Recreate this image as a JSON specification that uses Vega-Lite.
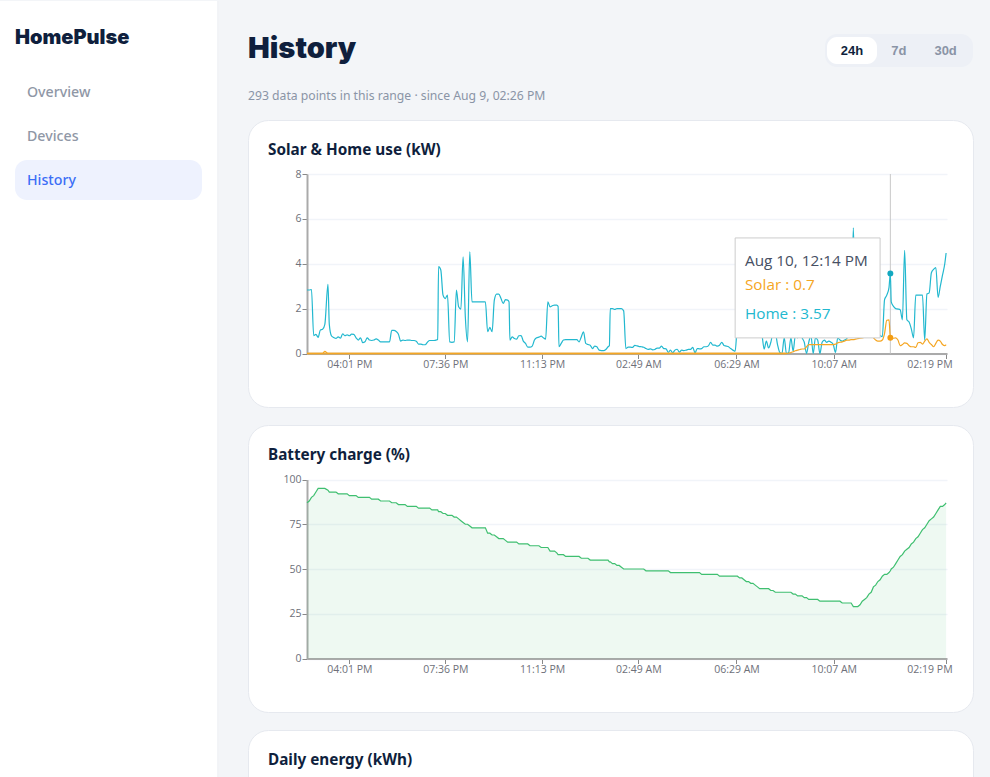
{"$schema":"https://vega.github.io/schema/vega-lite/v6.json","background":"#f3f5f8","padding":{"left":0,"top":0,"right":17,"bottom":0},"bounds":"flush","spacing":29,"resolve":{"scale":{"color":"independent"}},"config":{"concat":{"spacing":0},"view":{"stroke":null},"axis":{"labelFont":"Open Sans","labelFontSize":10.5,"labelColor":"#6e7079","labelPadding":1,"domainColor":"#aaaaaa","domainWidth":2,"tickColor":"#888888","tickSize":5,"gridColor":"#f1f4f9","gridWidth":1.5,"title":null},"title":{"font":"Noto Sans","fontSize":15.3,"fontWeight":700,"color":"#0f1f3d","anchor":"start","frame":"group","dx":20,"offset":-38}},"datasets":{"series":[
{"t":"2025-08-09T14:26","solar":0,"home":2.83,"battery":87},{"t":"2025-08-09T14:31","solar":0,"home":2.83,"battery":88},{"t":"2025-08-09T14:36","solar":0,"home":2.85,"battery":90},{"t":"2025-08-09T14:41","solar":0,"home":0.8,"battery":91},{"t":"2025-08-09T14:46","solar":0,"home":0.85,"battery":93},{"t":"2025-08-09T14:51","solar":0,"home":0.72,"battery":95},{"t":"2025-08-09T14:56","solar":0,"home":1.05,"battery":95},
{"t":"2025-08-09T15:01","solar":0,"home":1.08,"battery":95},{"t":"2025-08-09T15:06","solar":0.1,"home":1.3,"battery":95},{"t":"2025-08-09T15:13","solar":0,"home":3.08,"battery":94},{"t":"2025-08-09T15:16","solar":0,"home":1.3,"battery":93},{"t":"2025-08-09T15:21","solar":0,"home":0.78,"battery":93},{"t":"2025-08-09T15:26","solar":0,"home":0.71,"battery":93},{"t":"2025-08-09T15:31","solar":0,"home":0.67,"battery":93},{"t":"2025-08-09T15:36","solar":0,"home":0.74,"battery":92},{"t":"2025-08-09T15:41","solar":0,"home":0.68,"battery":92},{"t":"2025-08-09T15:46","solar":0,"home":0.88,"battery":92},{"t":"2025-08-09T15:51","solar":0,"home":0.79,"battery":92},{"t":"2025-08-09T15:56","solar":0,"home":0.83,"battery":92},
{"t":"2025-08-09T16:01","solar":0,"home":0.79,"battery":91},{"t":"2025-08-09T16:06","solar":0,"home":0.86,"battery":91},{"t":"2025-08-09T16:11","solar":0,"home":0.85,"battery":91},{"t":"2025-08-09T16:16","solar":0,"home":0.7,"battery":91},{"t":"2025-08-09T16:21","solar":0,"home":0.6,"battery":90},{"t":"2025-08-09T16:26","solar":0,"home":0.7,"battery":90},{"t":"2025-08-09T16:31","solar":0,"home":0.48,"battery":90},{"t":"2025-08-09T16:36","solar":0,"home":0.52,"battery":90},{"t":"2025-08-09T16:41","solar":0,"home":0.7,"battery":90},{"t":"2025-08-09T16:46","solar":0,"home":0.6,"battery":90},{"t":"2025-08-09T16:51","solar":0,"home":0.58,"battery":89},{"t":"2025-08-09T16:56","solar":0,"home":0.6,"battery":89},
{"t":"2025-08-09T17:01","solar":0,"home":0.65,"battery":89},{"t":"2025-08-09T17:06","solar":0,"home":0.6,"battery":89},{"t":"2025-08-09T17:11","solar":0,"home":0.52,"battery":88},{"t":"2025-08-09T17:16","solar":0,"home":0.52,"battery":88},{"t":"2025-08-09T17:21","solar":0,"home":0.52,"battery":88},{"t":"2025-08-09T17:26","solar":0,"home":0.52,"battery":88},{"t":"2025-08-09T17:31","solar":0,"home":0.52,"battery":88},{"t":"2025-08-09T17:36","solar":0,"home":1.03,"battery":87},{"t":"2025-08-09T17:41","solar":0,"home":1.03,"battery":87},{"t":"2025-08-09T17:46","solar":0,"home":0.98,"battery":87},{"t":"2025-08-09T17:51","solar":0,"home":0.86,"battery":86},{"t":"2025-08-09T17:56","solar":0,"home":0.55,"battery":86},
{"t":"2025-08-09T18:01","solar":0,"home":0.6,"battery":86},{"t":"2025-08-09T18:06","solar":0,"home":0.58,"battery":86},{"t":"2025-08-09T18:11","solar":0,"home":0.6,"battery":85},{"t":"2025-08-09T18:16","solar":0,"home":0.6,"battery":85},{"t":"2025-08-09T18:21","solar":0,"home":0.58,"battery":85},{"t":"2025-08-09T18:26","solar":0,"home":0.58,"battery":85},{"t":"2025-08-09T18:31","solar":0,"home":0.55,"battery":85},{"t":"2025-08-09T18:36","solar":0,"home":0.42,"battery":84},{"t":"2025-08-09T18:41","solar":0,"home":0.42,"battery":84},{"t":"2025-08-09T18:46","solar":0,"home":0.39,"battery":84},{"t":"2025-08-09T18:51","solar":0,"home":0.39,"battery":84},{"t":"2025-08-09T18:56","solar":0,"home":0.5,"battery":84},
{"t":"2025-08-09T19:01","solar":0,"home":0.58,"battery":84},{"t":"2025-08-09T19:06","solar":0,"home":0.58,"battery":83},{"t":"2025-08-09T19:11","solar":0,"home":0.58,"battery":83},{"t":"2025-08-09T19:16","solar":0,"home":0.6,"battery":83},{"t":"2025-08-09T19:19","solar":0,"home":0.62,"battery":83},{"t":"2025-08-09T19:21","solar":0,"home":3.87,"battery":82},{"t":"2025-08-09T19:26","solar":0,"home":3.72,"battery":82},{"t":"2025-08-09T19:31","solar":0,"home":2.6,"battery":81},{"t":"2025-08-09T19:36","solar":0,"home":2.45,"battery":81},{"t":"2025-08-09T19:41","solar":0,"home":2.6,"battery":80},{"t":"2025-08-09T19:46","solar":0,"home":0.52,"battery":80},{"t":"2025-08-09T19:51","solar":0,"home":0.5,"battery":80},{"t":"2025-08-09T19:56","solar":0,"home":0.52,"battery":79},
{"t":"2025-08-09T20:01","solar":0,"home":2.83,"battery":79},{"t":"2025-08-09T20:06","solar":0,"home":2.08,"battery":78},{"t":"2025-08-09T20:11","solar":0,"home":1.98,"battery":77},{"t":"2025-08-09T20:16","solar":0,"home":4.31,"battery":76},{"t":"2025-08-09T20:21","solar":0,"home":1.64,"battery":75},{"t":"2025-08-09T20:26","solar":0,"home":0.52,"battery":75},{"t":"2025-08-09T20:31","solar":0,"home":4.53,"battery":74},{"t":"2025-08-09T20:36","solar":0,"home":2.3,"battery":73},{"t":"2025-08-09T20:41","solar":0,"home":2.3,"battery":73},{"t":"2025-08-09T20:46","solar":0,"home":2.3,"battery":73},{"t":"2025-08-09T20:51","solar":0,"home":2.3,"battery":73},{"t":"2025-08-09T20:56","solar":0,"home":2.3,"battery":73},
{"t":"2025-08-09T21:01","solar":0,"home":2.3,"battery":73},{"t":"2025-08-09T21:06","solar":0,"home":2.3,"battery":73},{"t":"2025-08-09T21:11","solar":0,"home":0.97,"battery":70},{"t":"2025-08-09T21:16","solar":0,"home":1.16,"battery":70},{"t":"2025-08-09T21:21","solar":0,"home":0.97,"battery":69},{"t":"2025-08-09T21:26","solar":0,"home":2.38,"battery":69},{"t":"2025-08-09T21:31","solar":0,"home":2.65,"battery":68},{"t":"2025-08-09T21:36","solar":0,"home":2.65,"battery":67},{"t":"2025-08-09T21:41","solar":0,"home":2.45,"battery":67},{"t":"2025-08-09T21:46","solar":0,"home":2.23,"battery":67},{"t":"2025-08-09T21:51","solar":0,"home":2.4,"battery":66},{"t":"2025-08-09T21:56","solar":0,"home":2.38,"battery":65},{"t":"2025-08-09T21:59","solar":0,"home":2.3,"battery":65},
{"t":"2025-08-09T22:01","solar":0,"home":0.6,"battery":65},{"t":"2025-08-09T22:06","solar":0,"home":0.74,"battery":65},{"t":"2025-08-09T22:11","solar":0,"home":0.67,"battery":65},{"t":"2025-08-09T22:16","solar":0,"home":0.64,"battery":65},{"t":"2025-08-09T22:21","solar":0,"home":0.79,"battery":64},{"t":"2025-08-09T22:26","solar":0,"home":0.8,"battery":64},{"t":"2025-08-09T22:31","solar":0,"home":0.55,"battery":64},{"t":"2025-08-09T22:36","solar":0,"home":0.45,"battery":64},{"t":"2025-08-09T22:41","solar":0,"home":0.28,"battery":64},{"t":"2025-08-09T22:46","solar":0,"home":0.28,"battery":63},{"t":"2025-08-09T22:51","solar":0,"home":0.33,"battery":63},{"t":"2025-08-09T22:56","solar":0,"home":0.6,"battery":63},
{"t":"2025-08-09T23:01","solar":0,"home":0.7,"battery":63},{"t":"2025-08-09T23:06","solar":0,"home":0.73,"battery":63},{"t":"2025-08-09T23:11","solar":0,"home":0.77,"battery":62},{"t":"2025-08-09T23:16","solar":0,"home":0.7,"battery":62},{"t":"2025-08-09T23:21","solar":0,"home":0.64,"battery":62},{"t":"2025-08-09T23:26","solar":0,"home":2.3,"battery":62},{"t":"2025-08-09T23:31","solar":0,"home":2.08,"battery":60},{"t":"2025-08-09T23:36","solar":0,"home":2.13,"battery":60},{"t":"2025-08-09T23:41","solar":0,"home":2.16,"battery":60},{"t":"2025-08-09T23:46","solar":0,"home":2.16,"battery":59},{"t":"2025-08-09T23:49","solar":0,"home":2.1,"battery":58},{"t":"2025-08-09T23:51","solar":0,"home":0.3,"battery":58},{"t":"2025-08-09T23:56","solar":0,"home":0.45,"battery":58},
{"t":"2025-08-10T00:01","solar":0,"home":0.6,"battery":58},{"t":"2025-08-10T00:06","solar":0,"home":0.62,"battery":57},{"t":"2025-08-10T00:11","solar":0,"home":0.62,"battery":57},{"t":"2025-08-10T00:16","solar":0,"home":0.62,"battery":57},{"t":"2025-08-10T00:21","solar":0,"home":0.62,"battery":57},{"t":"2025-08-10T00:26","solar":0,"home":0.62,"battery":57},{"t":"2025-08-10T00:31","solar":0,"home":0.62,"battery":57},{"t":"2025-08-10T00:36","solar":0,"home":0.52,"battery":57},{"t":"2025-08-10T00:41","solar":0,"home":0.74,"battery":56},{"t":"2025-08-10T00:46","solar":0,"home":0.97,"battery":56},{"t":"2025-08-10T00:51","solar":0,"home":0.45,"battery":56},{"t":"2025-08-10T00:56","solar":0,"home":0.4,"battery":56},
{"t":"2025-08-10T01:01","solar":0,"home":0.37,"battery":55},{"t":"2025-08-10T01:06","solar":0,"home":0.22,"battery":55},{"t":"2025-08-10T01:11","solar":0,"home":0.33,"battery":55},{"t":"2025-08-10T01:16","solar":0,"home":0.3,"battery":55},{"t":"2025-08-10T01:21","solar":0,"home":0.15,"battery":55},{"t":"2025-08-10T01:26","solar":0,"home":0.13,"battery":55},{"t":"2025-08-10T01:31","solar":0,"home":0.13,"battery":55},{"t":"2025-08-10T01:36","solar":0,"home":0.18,"battery":55},{"t":"2025-08-10T01:41","solar":0,"home":0.3,"battery":55},{"t":"2025-08-10T01:44","solar":0,"home":0.35,"battery":54},{"t":"2025-08-10T01:46","solar":0,"home":2.0,"battery":54},{"t":"2025-08-10T01:51","solar":0,"home":2.0,"battery":53},{"t":"2025-08-10T01:56","solar":0,"home":1.96,"battery":53},
{"t":"2025-08-10T02:01","solar":0,"home":2.0,"battery":52},{"t":"2025-08-10T02:06","solar":0,"home":2.0,"battery":52},{"t":"2025-08-10T02:11","solar":0,"home":2.0,"battery":51},{"t":"2025-08-10T02:16","solar":0,"home":1.9,"battery":50},{"t":"2025-08-10T02:21","solar":0,"home":0.22,"battery":50},{"t":"2025-08-10T02:26","solar":0,"home":0.28,"battery":50},{"t":"2025-08-10T02:31","solar":0,"home":0.28,"battery":50},{"t":"2025-08-10T02:36","solar":0,"home":0.27,"battery":50},{"t":"2025-08-10T02:41","solar":0,"home":0.36,"battery":50},{"t":"2025-08-10T02:46","solar":0,"home":0.34,"battery":50},{"t":"2025-08-10T02:51","solar":0,"home":0.31,"battery":50},{"t":"2025-08-10T02:56","solar":0,"home":0.3,"battery":50},
{"t":"2025-08-10T03:01","solar":0,"home":0.28,"battery":50},{"t":"2025-08-10T03:06","solar":0,"home":0.22,"battery":49},{"t":"2025-08-10T03:11","solar":0,"home":0.18,"battery":49},{"t":"2025-08-10T03:16","solar":0,"home":0.21,"battery":49},{"t":"2025-08-10T03:21","solar":0,"home":0.16,"battery":49},{"t":"2025-08-10T03:26","solar":0,"home":0.18,"battery":49},{"t":"2025-08-10T03:31","solar":0,"home":0.24,"battery":49},{"t":"2025-08-10T03:36","solar":0,"home":0.24,"battery":49},{"t":"2025-08-10T03:41","solar":0,"home":0.33,"battery":49},{"t":"2025-08-10T03:46","solar":0,"home":0.22,"battery":49},{"t":"2025-08-10T03:51","solar":0,"home":0.21,"battery":49},{"t":"2025-08-10T03:56","solar":0,"home":0.05,"battery":49},
{"t":"2025-08-10T04:01","solar":0,"home":0.15,"battery":48},{"t":"2025-08-10T04:06","solar":0,"home":0.03,"battery":48},{"t":"2025-08-10T04:11","solar":0,"home":0.15,"battery":48},{"t":"2025-08-10T04:16","solar":0,"home":0.19,"battery":48},{"t":"2025-08-10T04:21","solar":0,"home":0.06,"battery":48},{"t":"2025-08-10T04:26","solar":0,"home":0.15,"battery":48},{"t":"2025-08-10T04:31","solar":0,"home":0.13,"battery":48},{"t":"2025-08-10T04:36","solar":0,"home":0.15,"battery":48},{"t":"2025-08-10T04:41","solar":0,"home":0.18,"battery":48},{"t":"2025-08-10T04:46","solar":0,"home":0.18,"battery":48},{"t":"2025-08-10T04:51","solar":0,"home":0.27,"battery":48},{"t":"2025-08-10T04:56","solar":0,"home":0.03,"battery":48},
{"t":"2025-08-10T05:01","solar":0,"home":0.22,"battery":48},{"t":"2025-08-10T05:06","solar":0,"home":0.21,"battery":48},{"t":"2025-08-10T05:11","solar":0,"home":0.22,"battery":47},{"t":"2025-08-10T05:16","solar":0,"home":0.3,"battery":47},{"t":"2025-08-10T05:21","solar":0,"home":0.3,"battery":47},{"t":"2025-08-10T05:26","solar":0,"home":0.34,"battery":47},{"t":"2025-08-10T05:31","solar":0,"home":0.5,"battery":47},{"t":"2025-08-10T05:36","solar":0,"home":0.37,"battery":47},{"t":"2025-08-10T05:41","solar":0,"home":0.37,"battery":47},{"t":"2025-08-10T05:46","solar":0,"home":0.33,"battery":47},{"t":"2025-08-10T05:51","solar":0,"home":0.37,"battery":46},{"t":"2025-08-10T05:56","solar":0,"home":0.5,"battery":46},
{"t":"2025-08-10T06:01","solar":0,"home":0.36,"battery":46},{"t":"2025-08-10T06:06","solar":0,"home":0.33,"battery":46},{"t":"2025-08-10T06:11","solar":0,"home":0.3,"battery":46},{"t":"2025-08-10T06:16","solar":0,"home":0.22,"battery":46},{"t":"2025-08-10T06:21","solar":0,"home":0.15,"battery":46},{"t":"2025-08-10T06:26","solar":0,"home":0.1,"battery":46},{"t":"2025-08-10T06:31","solar":0,"home":1.2,"battery":46},{"t":"2025-08-10T06:36","solar":0,"home":1.3,"battery":45},{"t":"2025-08-10T06:41","solar":0,"home":1.2,"battery":45},{"t":"2025-08-10T06:46","solar":0,"home":1.0,"battery":44},{"t":"2025-08-10T06:51","solar":0,"home":1.4,"battery":43},{"t":"2025-08-10T06:56","solar":0,"home":1.1,"battery":43},
{"t":"2025-08-10T07:01","solar":0,"home":0.9,"battery":42},{"t":"2025-08-10T07:06","solar":0,"home":1.3,"battery":42},{"t":"2025-08-10T07:11","solar":0,"home":1.1,"battery":41},{"t":"2025-08-10T07:16","solar":0,"home":1.0,"battery":40},{"t":"2025-08-10T07:21","solar":0,"home":0.9,"battery":39},{"t":"2025-08-10T07:26","solar":0,"home":0.8,"battery":39},{"t":"2025-08-10T07:31","solar":0,"home":0.2,"battery":39},{"t":"2025-08-10T07:36","solar":0,"home":0.55,"battery":39},{"t":"2025-08-10T07:41","solar":0,"home":0.25,"battery":39},{"t":"2025-08-10T07:46","solar":0,"home":0.5,"battery":38},{"t":"2025-08-10T07:51","solar":0,"home":0.9,"battery":38},{"t":"2025-08-10T07:56","solar":0,"home":0.9,"battery":37},
{"t":"2025-08-10T08:01","solar":0,"home":0.4,"battery":37},{"t":"2025-08-10T08:06","solar":0,"home":0.05,"battery":37},{"t":"2025-08-10T08:11","solar":0,"home":0,"battery":37},{"t":"2025-08-10T08:16","solar":0,"home":0.7,"battery":37},{"t":"2025-08-10T08:21","solar":0,"home":0,"battery":37},{"t":"2025-08-10T08:26","solar":0.02,"home":0.05,"battery":37},{"t":"2025-08-10T08:31","solar":0.04,"home":0.7,"battery":37},{"t":"2025-08-10T08:36","solar":0.08,"home":0.1,"battery":36},{"t":"2025-08-10T08:41","solar":0.12,"home":0.8,"battery":36},{"t":"2025-08-10T08:46","solar":0.15,"home":0.7,"battery":35},{"t":"2025-08-10T08:51","solar":0.18,"home":1.0,"battery":35},{"t":"2025-08-10T08:56","solar":0.2,"home":0.7,"battery":35},
{"t":"2025-08-10T09:01","solar":0.2,"home":0.5,"battery":34},{"t":"2025-08-10T09:06","solar":0.3,"home":0,"battery":34},{"t":"2025-08-10T09:11","solar":0.4,"home":0.5,"battery":33},{"t":"2025-08-10T09:16","solar":0.4,"home":0.8,"battery":33},{"t":"2025-08-10T09:21","solar":0.4,"home":0,"battery":33},{"t":"2025-08-10T09:26","solar":0.4,"home":0.7,"battery":33},{"t":"2025-08-10T09:31","solar":0.4,"home":0.6,"battery":33},{"t":"2025-08-10T09:36","solar":0.4,"home":0,"battery":32},{"t":"2025-08-10T09:41","solar":0.4,"home":0.5,"battery":32},{"t":"2025-08-10T09:46","solar":0.4,"home":0.6,"battery":32},{"t":"2025-08-10T09:51","solar":0.4,"home":0.5,"battery":32},{"t":"2025-08-10T09:56","solar":0.4,"home":0.55,"battery":32},
{"t":"2025-08-10T10:01","solar":0.4,"home":0.5,"battery":32},{"t":"2025-08-10T10:06","solar":0.4,"home":0.4,"battery":32},{"t":"2025-08-10T10:11","solar":0.42,"home":0.05,"battery":32},{"t":"2025-08-10T10:16","solar":0.48,"home":0.7,"battery":32},{"t":"2025-08-10T10:21","solar":0.5,"home":0.6,"battery":32},{"t":"2025-08-10T10:26","solar":0.52,"home":0.55,"battery":31},{"t":"2025-08-10T10:31","solar":0.55,"home":0.6,"battery":31},{"t":"2025-08-10T10:36","solar":0.6,"home":0.65,"battery":31},{"t":"2025-08-10T10:41","solar":0.6,"home":0.9,"battery":31},{"t":"2025-08-10T10:46","solar":0.62,"home":1.4,"battery":31},{"t":"2025-08-10T10:51","solar":0.62,"home":5.6,"battery":29},{"t":"2025-08-10T10:56","solar":0.64,"home":1.5,"battery":29},
{"t":"2025-08-10T11:01","solar":0.66,"home":1.0,"battery":29},{"t":"2025-08-10T11:06","solar":0.68,"home":1.3,"battery":30},{"t":"2025-08-10T11:11","solar":0.7,"home":1.1,"battery":32},{"t":"2025-08-10T11:16","solar":0.72,"home":1.4,"battery":33},{"t":"2025-08-10T11:21","solar":0.74,"home":1.2,"battery":34},{"t":"2025-08-10T11:26","solar":0.76,"home":1.0,"battery":36},{"t":"2025-08-10T11:31","solar":0.75,"home":1.3,"battery":37},{"t":"2025-08-10T11:36","solar":0.7,"home":1.5,"battery":40},{"t":"2025-08-10T11:41","solar":0.6,"home":1.1,"battery":41},{"t":"2025-08-10T11:46","solar":0.55,"home":0.9,"battery":43},{"t":"2025-08-10T11:51","solar":0.55,"home":0.8,"battery":44},{"t":"2025-08-10T11:56","solar":0.6,"home":0.75,"battery":46},
{"t":"2025-08-10T12:01","solar":0.9,"home":2.4,"battery":47},{"t":"2025-08-10T12:06","solar":1.48,"home":2.6,"battery":47},{"t":"2025-08-10T12:11","solar":1.5,"home":2.95,"battery":48},{"t":"2025-08-10T12:14","solar":0.7,"home":3.57,"battery":49},{"t":"2025-08-10T12:16","solar":0.7,"home":2.3,"battery":50},{"t":"2025-08-10T12:21","solar":0.68,"home":2.1,"battery":51},{"t":"2025-08-10T12:26","solar":0.7,"home":2.0,"battery":53},{"t":"2025-08-10T12:31","solar":0.6,"home":1.98,"battery":55},{"t":"2025-08-10T12:36","solar":0.35,"home":1.95,"battery":57},{"t":"2025-08-10T12:41","solar":0.4,"home":1.5,"battery":58},{"t":"2025-08-10T12:46","solar":0.47,"home":4.6,"battery":60},{"t":"2025-08-10T12:51","solar":0.45,"home":1.5,"battery":61},{"t":"2025-08-10T12:56","solar":0.35,"home":1.4,"battery":62},
{"t":"2025-08-10T13:01","solar":0.3,"home":1.1,"battery":64},{"t":"2025-08-10T13:06","solar":0.3,"home":0.7,"battery":65},{"t":"2025-08-10T13:11","solar":0.27,"home":2.6,"battery":67},{"t":"2025-08-10T13:16","solar":0.48,"home":2.6,"battery":68},{"t":"2025-08-10T13:21","solar":0.5,"home":2.6,"battery":70},{"t":"2025-08-10T13:26","solar":0.42,"home":2.6,"battery":72},{"t":"2025-08-10T13:31","solar":0.55,"home":0.6,"battery":73},{"t":"2025-08-10T13:36","solar":0.65,"home":2.65,"battery":75},{"t":"2025-08-10T13:41","solar":0.5,"home":2.7,"battery":77},{"t":"2025-08-10T13:46","solar":0.4,"home":3.6,"battery":78},{"t":"2025-08-10T13:51","solar":0.3,"home":3.75,"battery":79},{"t":"2025-08-10T13:56","solar":0.45,"home":3.83,"battery":81},
{"t":"2025-08-10T14:01","solar":0.6,"home":2.5,"battery":83},{"t":"2025-08-10T14:06","solar":0.55,"home":3.0,"battery":85},{"t":"2025-08-10T14:11","solar":0.4,"home":3.5,"battery":85},{"t":"2025-08-10T14:16","solar":0.35,"home":4.0,"battery":86},{"t":"2025-08-10T14:19","solar":0.4,"home":4.48,"battery":87}
],"hover":[{"t":"2025-08-10T12:14","solar":0.7,"home":3.57,"bottom":0,"top":8}],"tooltipBox":[{"from":"2025-08-10T06:26","to":"2025-08-10T11:51","bottom":0.695,"top":5.15}],"tooltipText":[{"t":"2025-08-10T06:48","y":4.125,"label":"Aug 10, 12:14 PM","role":"time"},{"t":"2025-08-10T06:48","y":3.055,"label":"Solar : 0.7","role":"solar"},{"t":"2025-08-10T06:48","y":1.76,"label":"Home : 3.57","role":"home"}]},
"hconcat":[
{"width":219,"height":777,"view":{"fill":"#ffffff","stroke":null},"resolve":{"scale":{"x":"independent","y":"independent"}},"layer":[
{"data":{"values":[{"edge":"sidebar"}]},"mark":{"type":"rule","color":"#e5e8ee","strokeWidth":1},"encoding":{"x":{"field":"edge","type":"nominal","scale":{"type":"point","range":[218,218]},"axis":null}}},
{"data":{"values":[{"item":"History"}]},"mark":{"type":"rect","color":"#eef2fe","cornerRadius":12},"encoding":{"x":{"field":"item","type":"nominal","scale":{"type":"band","range":[15,202],"paddingInner":0,"paddingOuter":0},"axis":null},"y":{"field":"item","type":"nominal","scale":{"type":"band","range":[159,199],"paddingInner":0,"paddingOuter":0},"axis":null}}},
{"data":{"values":[{"item":"Overview","state":"idle"},{"item":"Devices","state":"idle"},{"item":"History","state":"active"}]},"mark":{"type":"text","align":"left","baseline":"middle","font":"Noto Sans","fontSize":14.2,"fontWeight":500},"encoding":{"text":{"field":"item"},"x":{"field":"item","type":"nominal","scale":{"type":"point","range":[27,27]},"axis":null},"y":{"field":"item","type":"nominal","scale":{"type":"point","domain":["Overview","Devices","History"],"range":[92,180],"padding":0},"axis":null},"color":{"field":"state","type":"nominal","scale":{"domain":["idle","active"],"range":["#8f97a6","#3b6ef6"]},"legend":null}}},
{"data":{"values":[{"brand":"HomePulse"}]},"mark":{"type":"text","align":"left","baseline":"middle","font":"Inter","fontSize":20,"fontWeight":900,"color":"#0f1f3d"},"encoding":{"text":{"field":"brand"},"x":{"field":"brand","type":"nominal","scale":{"type":"point","range":[15,15]},"axis":null},"y":{"field":"brand","type":"nominal","scale":{"type":"point","range":[37,37]},"axis":null}}}
]},
{"spacing":16,"resolve":{"scale":{"color":"independent"}},"vconcat":[
{"bounds":"flush","spacing":0,"center":true,"resolve":{"scale":{"color":"independent"}},"hconcat":[
{"width":577,"height":99,"view":{"fill":"#f3f5f8"},"resolve":{"scale":{"x":"independent","y":"independent"}},"layer":[
{"data":{"values":[{"heading":"History"}]},"mark":{"type":"text","align":"left","baseline":"middle","font":"Inter","fontSize":29,"fontWeight":900,"color":"#0f1f3d"},"encoding":{"text":{"field":"heading"},"x":{"field":"heading","type":"nominal","scale":{"type":"point","range":[0,0]},"axis":null},"y":{"field":"heading","type":"nominal","scale":{"type":"point","range":[48,48]},"axis":null}}},
{"data":{"values":[{"note":"293 data points in this range · since Aug 9, 02:26 PM"}]},"mark":{"type":"text","align":"left","baseline":"middle","font":"Noto Sans","fontSize":12.2,"color":"#8a94a6"},"encoding":{"text":{"field":"note"},"x":{"field":"note","type":"nominal","scale":{"type":"point","range":[0,0]},"axis":null},"y":{"field":"note","type":"nominal","scale":{"type":"point","range":[95,95]},"axis":null}}}
]},
{"width":148,"height":33,"view":{"fill":"#edf0f6","cornerRadius":12,"stroke":null},"resolve":{"scale":{"x":"independent","y":"independent"}},"layer":[
{"data":{"values":[{"range":"24h"}]},"mark":{"type":"rect","color":"#ffffff","cornerRadius":10},"encoding":{"x":{"field":"range","type":"nominal","scale":{"type":"band","range":[2,52],"paddingInner":0,"paddingOuter":0},"axis":null},"y":{"field":"range","type":"nominal","scale":{"type":"band","range":[3,30],"paddingInner":0,"paddingOuter":0},"axis":null}}},
{"data":{"values":[{"range":"24h","state":"active"},{"range":"7d","state":"idle"},{"range":"30d","state":"idle"}]},"mark":{"type":"text","align":"center","baseline":"middle","font":"Liberation Sans","fontSize":13,"fontWeight":700},"encoding":{"text":{"field":"range"},"x":{"field":"range","type":"nominal","scale":{"type":"point","domain":["24h","7d","30d"],"range":[27,120.6],"padding":0},"axis":null},"y":{"field":"state","type":"nominal","scale":{"type":"point","range":[16.5,16.5]},"axis":null},"color":{"field":"state","type":"nominal","scale":{"domain":["idle","active"],"range":["#8a94a6","#0f1f3d"]},"legend":null}}}
]}
]},
{"bounds":"flush","spacing":18,"resolve":{"scale":{"color":"independent"}},"vconcat":[
{"width":725,"height":287,"title":"Solar & Home use (kW)","view":{"fill":"#ffffff","stroke":"#e6e9ef","cornerRadius":20},"encoding":{"x":{"field":"t","type":"temporal","scale":{"domain":["2025-08-09T14:26","2025-08-10T14:21"],"range":[59,699]},"axis":{"values":["2025-08-09T16:01","2025-08-09T19:36","2025-08-09T23:13","2025-08-10T02:49","2025-08-10T06:29","2025-08-10T10:07","2025-08-10T14:19"],"format":"%I:%M %p","offset":-53.5,"grid":false,"labelFlush":2,"labelFlushOffset":6}}},"layer":[
{"data":{"name":"hover"},"mark":{"type":"rule","color":"#c8c8c8","strokeWidth":1},"encoding":{"y":{"field":"bottom","type":"quantitative","scale":{"domain":[0,8],"range":[233.5,54],"nice":false},"axis":{"values":[0,2,4,6,8],"offset":-59,"grid":true}},"y2":{"field":"top"}}},
{"data":{"name":"series"},"mark":{"type":"line","color":"#22b8cf","strokeWidth":1.2,"interpolate":"monotone"},"encoding":{"y":{"field":"home","type":"quantitative"}}},
{"data":{"name":"series"},"transform":[{"filter":"datum.solar === 0"}],"mark":{"type":"line","color":"#e5a83f","strokeWidth":2},"encoding":{"y":{"field":"solar","type":"quantitative"}}},
{"data":{"name":"series"},"mark":{"type":"line","color":"#f5a623","strokeWidth":1.2,"interpolate":"monotone"},"encoding":{"y":{"field":"solar","type":"quantitative"}}},
{"data":{"name":"tooltipBox"},"mark":{"type":"rect","fill":"#ffffff","stroke":"#cccccc","strokeWidth":1},"encoding":{"x":{"field":"from","type":"temporal"},"x2":{"field":"to"},"y":{"field":"bottom","type":"quantitative"},"y2":{"field":"top"}}},
{"data":{"name":"tooltipText"},"mark":{"type":"text","align":"left","baseline":"middle","font":"Open Sans","fontSize":15.3},"encoding":{"text":{"field":"label"},"x":{"field":"t","type":"temporal"},"y":{"field":"y","type":"quantitative"},"color":{"field":"role","type":"nominal","scale":{"domain":["time","solar","home"],"range":["#464f63","#f5a623","#22b8cf"]},"legend":null}}},
{"data":{"name":"hover"},"mark":{"type":"point","filled":true,"size":35,"opacity":1,"color":"#13a8c0"},"encoding":{"y":{"field":"home","type":"quantitative"}}},
{"data":{"name":"hover"},"mark":{"type":"point","filled":true,"size":35,"opacity":1,"color":"#f39c12"},"encoding":{"y":{"field":"solar","type":"quantitative"}}}
]},
{"width":725,"height":287,"title":"Battery charge (%)","view":{"fill":"#ffffff","stroke":"#e6e9ef","cornerRadius":20},"data":{"name":"series"},"encoding":{"x":{"field":"t","type":"temporal","scale":{"domain":["2025-08-09T14:26","2025-08-10T14:21"],"range":[59,699]},"axis":{"values":["2025-08-09T16:01","2025-08-09T19:36","2025-08-09T23:13","2025-08-10T02:49","2025-08-10T06:29","2025-08-10T10:07","2025-08-10T14:19"],"format":"%I:%M %p","offset":-53.5,"grid":false,"labelFlush":2,"labelFlushOffset":6}},"y":{"field":"battery","type":"quantitative","scale":{"domain":[0,100],"range":[233.5,54.5],"nice":false},"axis":{"values":[0,25,50,75,100],"offset":-59,"grid":true}}},"layer":[
{"mark":{"type":"area","color":"#3fb96f","opacity":0.09},"encoding":{"y2":{"datum":0}}},
{"mark":{"type":"line","color":"#3fbf70","strokeWidth":1.2}}
]},
{"width":725,"height":287,"title":"Daily energy (kWh)","view":{"fill":"#ffffff","stroke":"#e6e9ef","cornerRadius":20},"data":{"values":[]},"mark":"bar"}
]}
]}
]}
